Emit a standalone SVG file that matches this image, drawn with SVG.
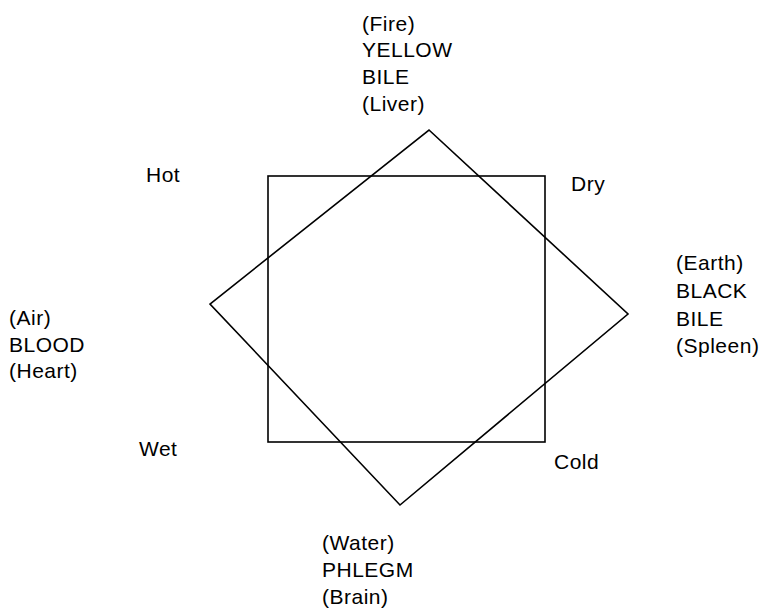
<svg xmlns="http://www.w3.org/2000/svg" width="769" height="613" viewBox="0 0 769 613">
<style>
text{font-family:"Liberation Sans",Arial,sans-serif;font-size:21px;fill:#000;letter-spacing:0.5px}
.ln{fill:none;stroke:#000;stroke-width:1.6}
</style>
<rect width="769" height="613" fill="#fff"/>
<g id="connectors">
<rect class="ln" x="268" y="176" width="277" height="266"/>
<polygon class="ln" points="429,130 628,314 400,505 210,304"/>
</g>
<g id="fire"><text x="362" y="31">(Fire)</text><text x="362" y="57">YELLOW</text><text x="362" y="84">BILE</text><text x="362" y="111">(Liver)</text></g>
<g id="air"><text x="9" y="325">(Air)</text><text x="9" y="352">BLOOD</text><text x="9" y="378">(Heart)</text></g>
<g id="earth"><text x="676" y="270">(Earth)</text><text x="676" y="298">BLACK</text><text x="676" y="326">BILE</text><text x="676" y="353">(Spleen)</text></g>
<g id="water"><text x="322" y="550">(Water)</text><text x="322" y="577">PHLEGM</text><text x="322" y="604">(Brain)</text></g>
<g id="hot"><text x="146" y="182">Hot</text></g>
<g id="dry"><text x="571" y="191">Dry</text></g>
<g id="wet"><text x="139" y="456">Wet</text></g>
<g id="cold"><text x="554" y="469">Cold</text></g>
</svg>
